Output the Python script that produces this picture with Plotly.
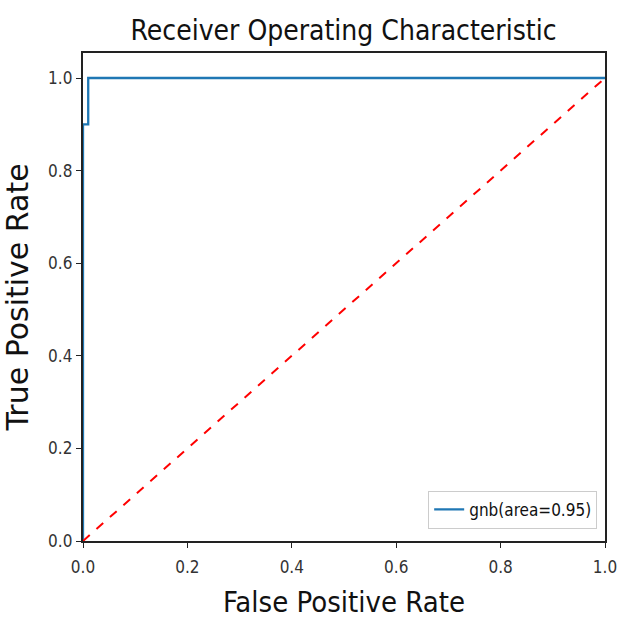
import plotly.graph_objects as go

fpr = [0.0, 0.0, 0.01, 0.01, 1.0]
tpr = [0.0, 0.9, 0.9, 1.0, 1.0]
diag_x = [0.0, 1.0]
diag_y = [0.0, 1.0]
legend_label = "gnb(area=0.95)"
tick_vals = [0.0, 0.2, 0.4, 0.6, 0.8, 1.0]
tick_text = ["0.0", "0.2", "0.4", "0.6", "0.8", "1.0"]

FONT = "DejaVu Sans Condensed, Liberation Sans Narrow, DejaVu Sans"

fig = go.Figure()
fig.add_trace(go.Scatter(x=fpr, y=tpr, mode="lines", name=legend_label,
                         line=dict(color="#1f77b4", width=2.3)))
fig.add_trace(go.Scatter(x=diag_x, y=diag_y, mode="lines", showlegend=False,
                         line=dict(color="red", width=2, dash="dash")))

axis_common = dict(showgrid=False, zeroline=False, showline=True, linecolor="#222",
                   linewidth=2.3, mirror=True, ticks="outside", ticklen=5, tickwidth=1.2,
                   tickcolor="#222", tickvals=tick_vals, ticktext=tick_text,
                   layer="above traces", automargin=False,
                   tickfont=dict(family=FONT, size=17, color="#333"))

fig.update_layout(
    width=619, height=624,
    margin=dict(l=83, r=14, t=53, b=83),
    paper_bgcolor="white", plot_bgcolor="white",
    title=dict(text="Receiver Operating Characteristic", x=0.555, xanchor="center",
               y=0.952, yanchor="middle",
               font=dict(family=FONT, size=28, color="#111")),
    xaxis=dict(range=[0, 1.0], ticklabelstandoff=4, **axis_common,
               title=dict(text="False Positive Rate", standoff=16,
                          font=dict(family=FONT, size=29, color="#111"))),
    yaxis=dict(range=[0, 1.054], **axis_common,
               title=dict(text="True Positive Rate", standoff=14,
                          font=dict(family="DejaVu Sans", size=30, color="#111"))),
    legend=dict(x=0.985, y=0.025, xanchor="right", yanchor="bottom",
                bgcolor="white", bordercolor="#ccc", borderwidth=1,
                font=dict(family=FONT, size=17, color="#111")),
)

fig.write_html("out.html")
